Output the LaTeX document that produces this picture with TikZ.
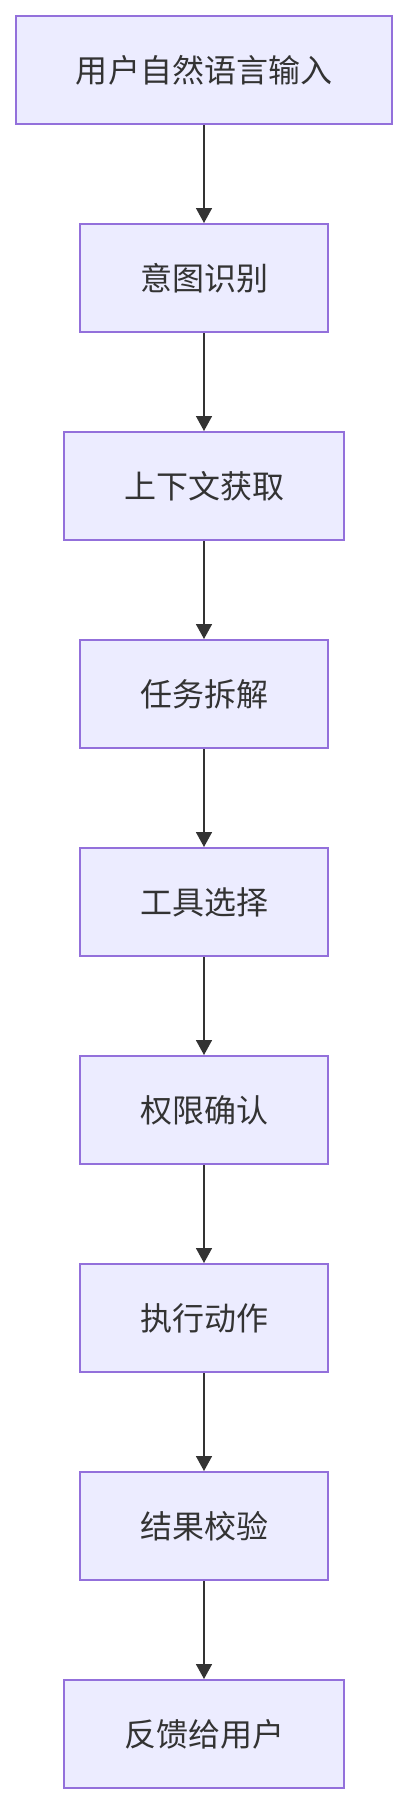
\documentclass[tikz,border=0pt]{standalone}
\usepackage{fontspec}
\newfontfamily\cjk{Noto Sans CJK SC}
\usetikzlibrary{arrows.meta}
\definecolor{boxfill}{HTML}{ECECFF}
\definecolor{boxline}{HTML}{9370DB}
\definecolor{ink}{HTML}{333333}
\tikzset{
  stepbox/.style={draw=boxline, fill=boxfill, line width=2bp, minimum height=108bp,
    inner sep=0pt, text=ink, font=\cjk\fontsize{32bp}{38bp}\selectfont},
  flow/.style={draw=ink, line width=1.6bp, -{Triangle[width=16bp,length=15bp]}}
}
\begin{document}
\begin{tikzpicture}[x=1bp,y=-1bp]
\useasboundingbox (0,0) rectangle (408,1804);
\node[stepbox, minimum width=376.5bp] (n1) at (204,70) {用户自然语言输入};
\node[stepbox, minimum width=248bp] (n2) at (204,278) {意图识别};
\node[stepbox, minimum width=280bp] (n3) at (204,486) {上下文获取};
\node[stepbox, minimum width=248bp] (n4) at (204,694) {任务拆解};
\node[stepbox, minimum width=248bp] (n5) at (204,902) {工具选择};
\node[stepbox, minimum width=248bp] (n6) at (204,1110) {权限确认};
\node[stepbox, minimum width=248bp] (n7) at (204,1318) {执行动作};
\node[stepbox, minimum width=248bp] (n8) at (204,1526) {结果校验};
\node[stepbox, minimum width=280bp] (n9) at (204,1734) {反馈给用户};
\draw[flow] (n1) -- (n2);
\draw[flow] (n2) -- (n3);
\draw[flow] (n3) -- (n4);
\draw[flow] (n4) -- (n5);
\draw[flow] (n5) -- (n6);
\draw[flow] (n6) -- (n7);
\draw[flow] (n7) -- (n8);
\draw[flow] (n8) -- (n9);
\end{tikzpicture}
\end{document}
